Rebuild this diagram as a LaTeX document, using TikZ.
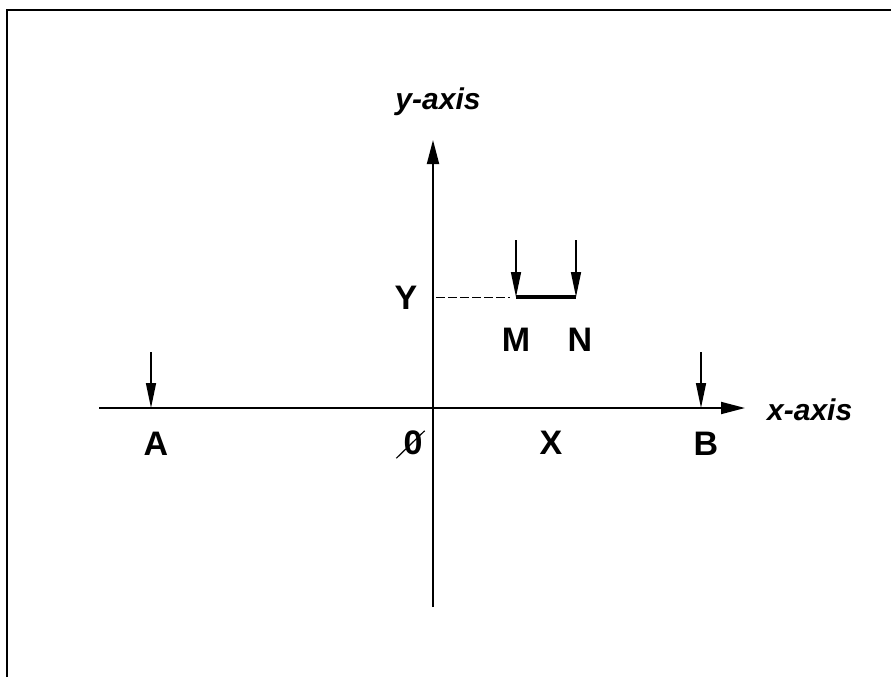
\documentclass[tikz,border=0pt]{standalone}
\usepackage{fontspec}
\setmainfont{Liberation Sans}
\usetikzlibrary{arrows.meta}

\begin{document}
\begin{tikzpicture}[x=1pt, y=-1pt,
    lbl/.style={font=\fontsize{34}{40}\selectfont\bfseries, inner sep=0pt},
    axlbl/.style={font=\fontsize{30}{36}\selectfont\bfseries\itshape, inner sep=0pt},
    axis/.style={line width=1.8pt, -{Triangle[length=24pt,width=12pt]}},
    load/.style={line width=1.5pt, -{Triangle[length=25pt,width=10pt]}}]
    \useasboundingbox (0,0) rectangle (891,677);
    \draw[line width=2pt] (7,677) -- (7,10) -- (891,10);
    % axes
    \coordinate (o) at (433,408);
    \coordinate (xl) at (99,408);
    \coordinate (xe) at (745,408);
    \coordinate (yb) at (433,607);
    \coordinate (ye) at (433,140);
    \draw[axis] (xl) -- (xe);
    \draw[axis] (yb) -- (ye);
    \node[axlbl, anchor=west] (xlab) at (767,410) {x-axis};
    \node[axlbl] (ylab) at (438,102) {y-axis};
    % loads
    \foreach \n/\x/\yt/\yf in {a/151/352/408, b/701/352/408, m/516/240/297, n/576/240/297} {
        \coordinate (\n top) at (\x,\yt);
        \coordinate (\n) at (\x,\yf);
        \draw[load] (\n top) -- (\n);
    }
    \draw[line width=4pt] (m) -- (n);
    \draw[line width=0.8pt, dash pattern=on 9pt off 3pt] ([xshift=3pt]o |- m) -- ([xshift=-6pt]m);
    % labels
    \foreach \n/\t/\x/\y in {la/A/156/444, lb/B/706/444, lm/M/516/340, ln/N/580/340, lx/X/551/443, ly/Y/406/298} {
        \node[lbl] (\n) at (\x,\y) {\t};
    }
    \node[lbl] (zero) at (413,443) {0};
    \draw[line width=1.2pt] ([xshift=-7pt,yshift=-3pt]zero.south west) -- ([xshift=2pt]zero.north east);
\end{tikzpicture}
\end{document}
